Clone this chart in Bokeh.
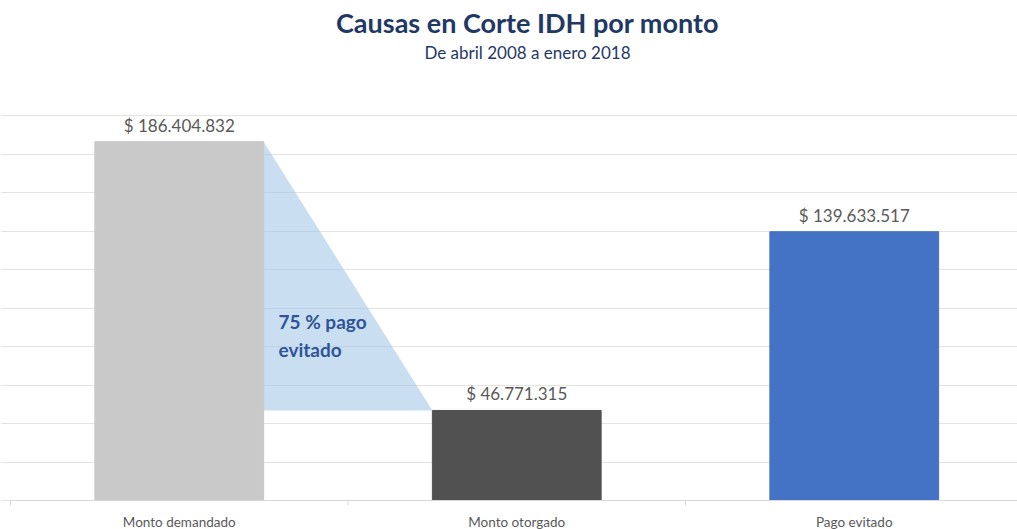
from bokeh.plotting import figure
from bokeh.models import ColumnDataSource, Grid, FixedTicker, Range1d
from bokeh.core.properties import value
from bokeh.embed import file_html
from bokeh.resources import INLINE

# ---- data ----
categories = ["Monto demandado", "Monto otorgado", "Pago evitado"]
amounts = [186404832, 46771315, 139633517]
bar_colors = ["#C9C9C9", "#515151", "#4472C4"]
grid_ticks = [0, 20e6, 40e6, 60e6, 80e6, 100e6, 120e6, 140e6, 160e6, 180e6, 200e6]
title_text = "Causas en Corte IDH por monto"
subtitle_text = "De abril 2008 a enero 2018"
note_lines = ["75 % pago", "evitado"]

def fmt(v):
    return "$ " + f"{v:,}".replace(",", ".")

value_labels = [fmt(v) for v in amounts]

# ---- layout helpers ----
W, H = 1017, 529
px_per_cat = 337.5
x0_px = 10                     # category 0 starts 10px from the left
base_px = 500                  # baseline (value 0) from the top
px_per_val = 385 / 200e6

def ypx(py):                   # figure pixel row -> data value
    return (base_px - py) / px_per_val

def xpx(px):
    return (px - x0_px) / px_per_cat

x_start = xpx(0)
x_end = xpx(W)
y_end = ypx(0)
y_start = ypx(H)

p = figure(width=W, height=H, output_backend="svg", toolbar_location=None,
           x_range=Range1d(x_start, x_end), y_range=Range1d(y_start, y_end),
           x_axis_location=None, y_axis_location=None,
           min_border=0, outline_line_color=None)
p.background_fill_color = "white"
p.border_fill_color = "white"
for g in p.grid:
    g.visible = False

grid = Grid(dimension=1, ticker=FixedTicker(ticks=grid_ticks),
            grid_line_color="#E3E3E3", grid_line_width=1)
p.add_layout(grid, "center")

xs = [i + 0.5 for i in range(len(categories))]
src = ColumnDataSource(dict(x=xs, top=amounts, color=bar_colors,
                            label=value_labels, cat=categories))

# connector triangle (from demanded bar top down to granted bar top)
bw = 0.5
tri_x = [xs[0] + bw / 2, xs[1] - bw / 2, xs[0] + bw / 2]
tri_y = [amounts[0], amounts[1], amounts[1]]
p.patch(tri_x, tri_y, fill_color="#9DC3E6", fill_alpha=0.55, line_color=None)

p.vbar(x="x", top="top", bottom=0, width=bw, color="color", source=src)

# axis baseline and ticks between categories
p.segment(x0=[xpx(10)], x1=[x_end], y0=[0], y1=[0], line_color="#D9D9D9", line_width=1)
tick_len = 5 / px_per_val
p.segment(x0=[0, 1, 2, 3], x1=[0, 1, 2, 3], y0=[0] * 4, y1=[-tick_len] * 4,
          line_color="#D9D9D9", line_width=1)

# value labels
p.text(x="x", y="top", text="label", source=src, text_align="center",
       text_baseline="bottom", y_offset=-6, text_font=value("Lato"),
       text_font_size="17px", text_color="#595959")

# category labels
p.text(x="x", y=ypx(521), text="cat", source=src, text_align="center",
       text_baseline="middle", text_font=value("Lato"), text_font_size="13.5px",
       text_color="#595959")

# annotation inside the triangle
note_x = xpx(278)
p.text(x=[note_x, note_x], y=[ypx(321), ypx(349)], text=note_lines,
       text_align="left", text_baseline="middle", text_font=value("Lato"),
       text_font_style="bold", text_font_size="19px", text_color="#2F5597")

# title and subtitle
cx = xpx(527)
p.text(x=[cx], y=[ypx(22)], text=[title_text], text_align="center",
       text_baseline="middle", text_font=value("Lato"), text_font_style="bold",
       text_font_size="27px", text_color="#1F3864")
p.text(x=[cx], y=[ypx(52)], text=[subtitle_text], text_align="center",
       text_baseline="middle", text_font=value("Lato"), text_font_size="17px",
       text_color="#1F3864")

open("out.html", "w").write(file_html(p, INLINE))
